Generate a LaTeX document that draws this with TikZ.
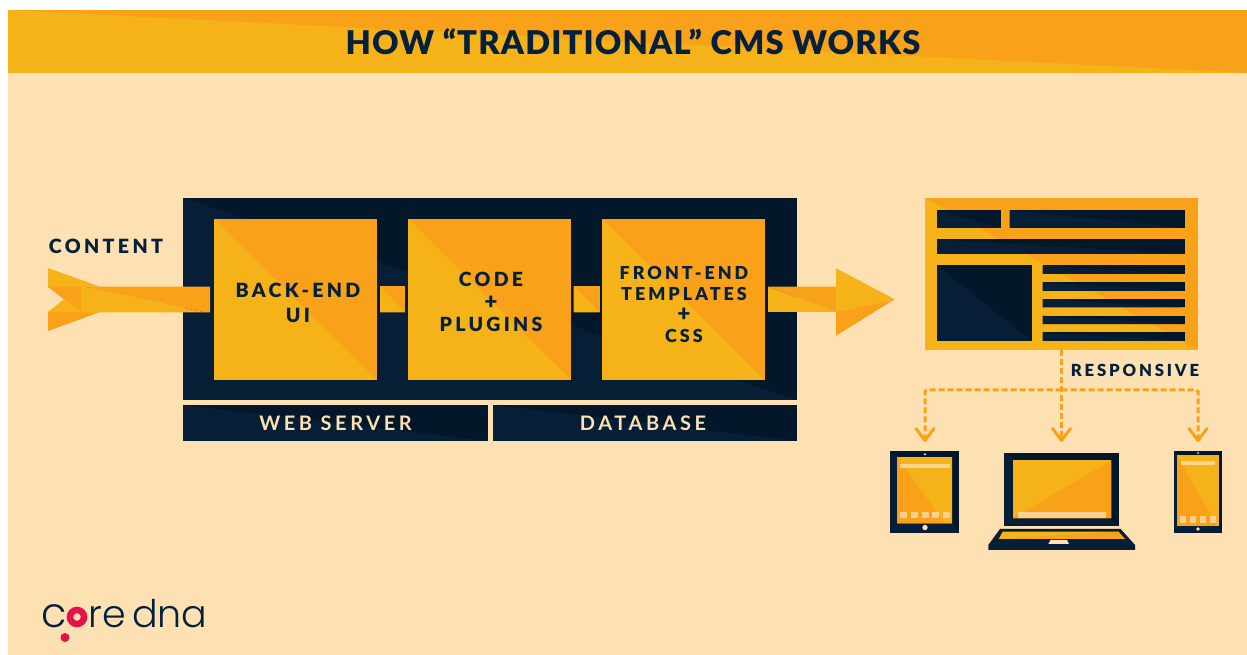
\documentclass[tikz,border=0pt]{standalone}
\usepackage{fontspec}
\usetikzlibrary{arrows.meta}
\setmainfont{Lato}
\newfontfamily\titlefont[LetterSpace=3.5]{Lato Black}
\newfontfamily\lblfont[LetterSpace=17]{Lato Black}
\newfontfamily\barfont[LetterSpace=18]{Lato Bold}
\newfontfamily\logofont{Poppins Light}
\definecolor{cream}{HTML}{FDE1B3}
\definecolor{amber}{HTML}{F8A119}
\definecolor{sun}{HTML}{F6B319}
\definecolor{navyA}{HTML}{03172B}
\definecolor{navyB}{HTML}{061E36}
\definecolor{ink}{HTML}{04203A}
\definecolor{rose}{HTML}{E5124A}
\def\px{0.75pt}
\tikzset{
  x=0.75pt,y=-0.75pt,
  plate/.style n args={4}{rectangle,draw=none,inner sep=0pt,outer sep=0pt,minimum width=#1*\px,minimum height=#2*\px,fill=#3,
    path picture={\fill[#4] (path picture bounding box.north west) -- (path picture bounding box.south east) -- (path picture bounding box.south west) -- cycle;}},
  amberplate/.style 2 args={plate={#1}{#2}{amber}{sun}},
  navyplate/.style 2 args={plate={#1}{#2}{navyA}{navyB}},
  lbl/.style={text=ink,inner sep=0pt,align=center},
  pale/.style={fill=cream,opacity=0.75,draw=none},
  dash link/.style={draw=amber,line width=3*\px,dash pattern=on 6*\px off 3*\px},
  tip link/.style={dash link,-{Straight Barb[length=12*\px,width=18*\px,line width=3*\px,round]}},
}
\begin{document}
\begin{tikzpicture}
\useasboundingbox (0,0) rectangle (1247,655);
\fill[white] (0,0) rectangle (1247,655);
\fill[cream] (8,10) rectangle (1247,655);
% title band
\node[amberplate={1239}{63},anchor=north west] (band) at (8,10) {};
\node[lbl,font=\titlefont\fontsize{24.5}{28}\selectfont] (title) at (633,41.5) {HOW “TRADITIONAL” CMS WORKS};
% server block
\node[navyplate={614}{202},anchor=north west] (server) at (183,198) {};
\node[navyplate={305}{36},anchor=north west] (web) at (183,405) {};
\node[navyplate={304}{36},anchor=north west] (db) at (493,405) {};
\node[lbl,text=cream,font=\barfont\fontsize{15}{18}\selectfont] (webtext) at (335.5,423) {WEB SERVER};
\node[lbl,text=cream,font=\barfont\fontsize{15}{18}\selectfont] (dbtext) at (643,423) {DATABASE};
% input arrow
\fill[sun] (48,268) -- (100,286.7) -- (48,287) -- cycle;
\fill[amber] (48,287) -- (81,287) -- (81,311.5) -- (64,299.3) -- cycle;
\fill[sun] (64,299.3) -- (81,311.5) -- (81,312) -- (48,312) -- cycle;
\fill[amber] (48,312) -- (100,312) -- (48,331) -- cycle;
\fill[amber] (81,286.7) -- (210,286.7) -- (210,312.3) -- (205,312.3) -- cycle;
\fill[sun] (81,286.7) -- (205,312.3) -- (81,312.3) -- cycle;
\node[lbl,font=\lblfont\fontsize{14.7}{18}\selectfont] (content) at (106,246) {CONTENT};
% stage boxes
\node[amberplate={163}{161},anchor=north west] (backend) at (214,219) {};
\node[amberplate={163}{161},anchor=north west] (code) at (408,219) {};
\node[amberplate={163}{161},anchor=north west] (front) at (602,219) {};
\node[amberplate={25}{26},anchor=north west] (linkA) at (380,286.5) {};
\node[amberplate={26}{26},anchor=north west] (linkB) at (573.5,286.5) {};
\node[lbl,font=\lblfont\fontsize{14.7}{19}\selectfont] (backtext) at (298,303) {BACK-END\\UI};
\node[lbl,font=\lblfont\fontsize{14.6}{16.9}\selectfont] (codetext) at (491,302) {CODE\\{\fontsize{17}{16.9}\selectfont+}\\PLUGINS};
\node[lbl,font=\lblfont\fontsize{13.4}{15.7}\selectfont] (fronttext) at (684,304.5) {FRONT-END\\TEMPLATES\\{\fontsize{17}{15.7}\selectfont+}\\CSS};
% output arrow
\fill[amber] (768,286.7) -- (836,286.7) -- (836,312) -- cycle;
\fill[sun] (768,286.7) -- (836,312) -- (768,312) -- cycle;
\fill[sun] (836,268.3) -- (894.7,299.3) -- (836,311.7) -- cycle;
\fill[amber] (836,311.7) -- (894.7,299.3) -- (836,335.7) -- cycle;
% web page
\node[amberplate={273}{152},anchor=north west] (page) at (925,198) {};
\node[navyplate={64}{18},anchor=north west] at (937,210) {};
\node[navyplate={175.5}{18},anchor=north west] at (1009.5,210) {};
\node[navyplate={248}{14.5},anchor=north west] at (937,239.5) {};
\node[navyplate={95}{75.5},anchor=north west] at (937,265.5) {};
\foreach \yy in {265.5,282.2,299,315.7,332.5}
  \node[navyplate={142.5}{8.5},anchor=north west] at (1042.5,\yy) {};
\node[lbl,font=\lblfont\fontsize{12.5}{16}\selectfont] (resp) at (1135,370) {RESPONSIVE};
% responsive connectors
\coordinate (pagefoot) at (1061.5,350);
\coordinate (hub) at (1061.5,390);
\coordinate (left) at (925,390);
\coordinate (right) at (1198,390);
\coordinate (tabtop) at (925,442);
\coordinate (laptop) at (1061.5,442);
\coordinate (phonetop) at (1198,442);
\draw[tip link] (pagefoot) -- (laptop);
\draw[tip link,rounded corners=1.5*\px] (hub) -- (left) -- (tabtop);
\draw[tip link,rounded corners=1.5*\px] (hub) -- (right) -- (phonetop);
% tablet
\node[navyplate={69}{82},anchor=north west] (tablet) at (890,451) {};
\node[plate={54.7}{66}{sun}{amber},anchor=north west] (tabscreen) at (897.3,457.3) {};
\fill[amber] (897.3,457.3) -- (945,523.3) -- (897.3,523.3) -- cycle;
\fill[sun] (897.3,457.3) -- (952,457.3) -- (952,523.3) -- (945,523.3) -- cycle;
\fill[pale] (900,464) rectangle (949.5,468.5);
\foreach \xx in {903.3,914,925,935.5,946} \fill[pale] (\xx-3.5,512.5) rectangle (\xx+3.5,518.5);
\fill[cream] (925,527.5) circle[radius=2.7*\px];
\fill[cream] (925,454.3) circle[radius=1.1*\px];
% laptop
\node[navyplate={115}{72.7},anchor=north west] (lapscreen) at (1004.3,453) {};
\fill[sun] (1013,460.3) rectangle (1111.3,518.3);
\fill[amber] (1013,518.3) -- (1111.3,460.3) -- (1111.3,518.3) -- cycle;
\fill[pale] (1017.7,512.3) rectangle (1106,518);
\fill[navyB] (988.3,545) -- (1000,529) -- (1120.7,529) -- (1135,545) -- (1135,550) -- (988.3,550) -- cycle;
\fill[sun] (998.7,539) -- (1002.7,531.7) -- (1118.3,531.7) -- (1125,539) -- cycle;
\fill[amber] (998.7,539) -- (1118.3,531.7) -- (1125,539) -- cycle;
\fill[cream] (1048.3,544) -- (1050.5,540) -- (1067,540) -- (1069,544) -- cycle;
% phone
\node[navyplate={47.7}{81.7},anchor=north west] (phone) at (1174,451) {};
\fill[sun] (1177,455.3) rectangle (1219,525.7);
\fill[amber] (1177,455.3) -- (1217,525.7) -- (1177,525.7) -- cycle;
\fill[pale] (1181,461) rectangle (1215,464.7);
\foreach \xx in {1183,1193,1203,1212.7} \fill[pale] (\xx-3.2,516.3) rectangle (\xx+3.2,522.7);
\fill[cream] (1198,529) circle[radius=1.8*\px];
\fill[cream] (1198,453) circle[radius=1*\px];
% logo
\node[inner sep=0pt,text=ink,anchor=base west,font=\logofont\fontsize{31}{30}\selectfont] (logoc) at (41,628) {c};
\node[inner sep=0pt,text=ink,anchor=base west,font=\logofont\fontsize{28.5}{30}\selectfont] (logore) at (88,628) {re};
\node[inner sep=0pt,text=ink,anchor=base west,font=\logofont\fontsize{28.5}{30}\selectfont] (logodna) at (132,628) {dna};
\draw[rose,line width=6.5*\px] (77,617) circle[radius=7*\px];
\fill[rose] (65,637.5) circle[radius=4.5*\px];
\end{tikzpicture}
\end{document}
